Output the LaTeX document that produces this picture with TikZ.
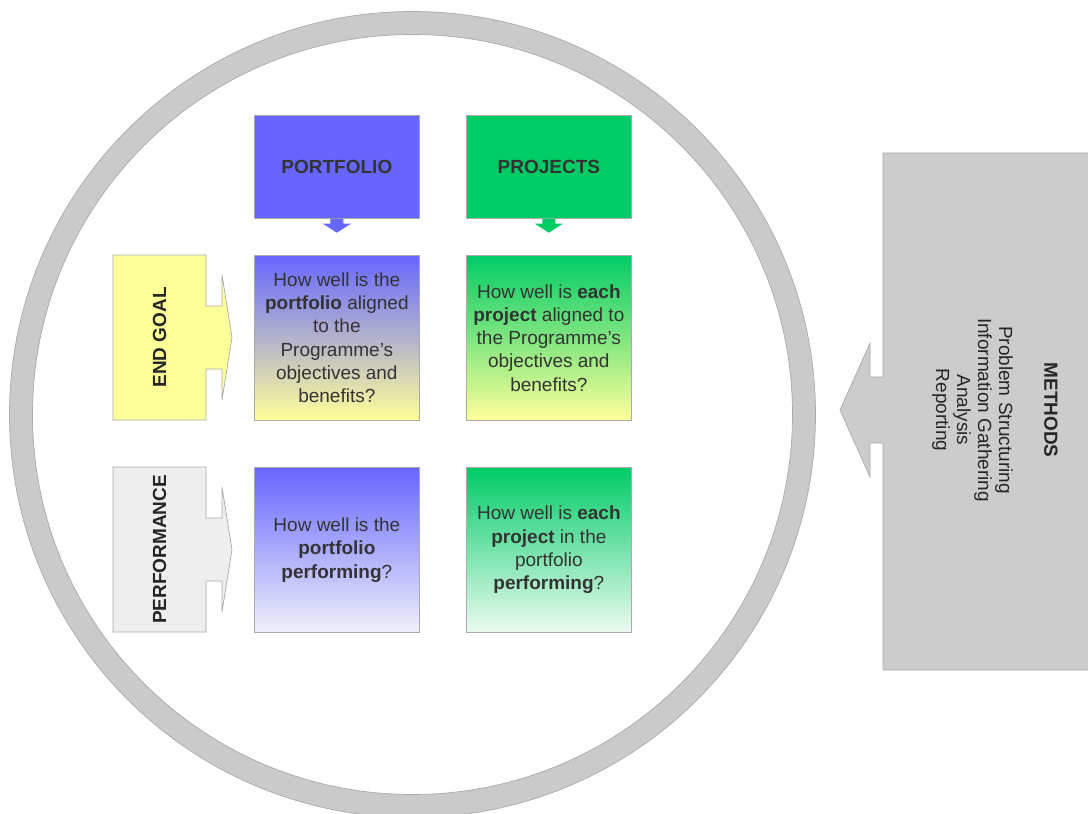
\documentclass[tikz,border=0pt]{standalone}
\usepackage{fontspec}
\setmainfont{Liberation Sans}
\definecolor{pblue}{RGB}{102,102,255}
\definecolor{pgreen}{RGB}{0,204,102}
\definecolor{pyellow}{RGB}{255,255,153}
\definecolor{pgrey}{RGB}{238,238,238}
\definecolor{pwhiteb}{RGB}{240,240,250}
\definecolor{pwhiteg}{RGB}{236,250,240}
\definecolor{ringgrey}{RGB}{202,202,202}
\definecolor{edgegrey}{RGB}{170,170,170}
\definecolor{mgrey}{RGB}{204,204,204}
\definecolor{txt}{RGB}{51,51,51}
\begin{document}
\begin{tikzpicture}[x=1pt,y=-1pt,
  qbox/.style={draw=edgegrey, line width=0.7pt, minimum width=165pt, minimum height=165pt,
    inner sep=0pt, anchor=north west, align=center, text=txt,
    font=\fontsize{19}{23.3}\selectfont},
  hbox/.style={draw=edgegrey, line width=0.7pt, minimum width=165pt, minimum height=103pt,
    inner sep=0pt, anchor=north west, text=txt, font=\fontsize{19}{23}\selectfont\bfseries},
  callout/.style={draw=edgegrey, line width=0.7pt},
  vlabel/.style={rotate=90, text=black!85, font=\fontsize{19}{23}\selectfont\bfseries},
  mlabel/.style={rotate=-90, text=black!85, font=\fontsize{19}{21}\selectfont}
]
\clip (0,0) rectangle (1088,814);
\fill[white] (0,0) rectangle (1088,814);

% outer ring
\coordinate (rc) at (412.5,414.5);
\filldraw[fill=ringgrey, draw=edgegrey, line width=0.7pt, even odd rule]
  (rc) circle[radius=403] (rc) circle[radius=380];

% column headers
\node[hbox, fill=pblue]  (hp) at (254,115) {PORTFOLIO};
\node[hbox, fill=pgreen] (hj) at (466,115) {PROJECTS};

% small down arrows
\fill[pblue]  ([xshift=-6.5pt]hp.south) -- ++(13,0) -- ++(0,5) -- ++(7.5,0) -- ++(-14,9) -- ++(-14,-9) -- ++(7.5,0) -- cycle;
\fill[pgreen] ([xshift=-6.5pt]hj.south) -- ++(13,0) -- ++(0,5) -- ++(7.5,0) -- ++(-14,9) -- ++(-14,-9) -- ++(7.5,0) -- cycle;

% question boxes
\node[qbox, top color=pblue, bottom color=pyellow] (q1) at (254,255)
  {How well is the\\\textbf{portfolio} aligned\\to the\\Programme’s\\objectives and\\benefits?};
\node[qbox, top color=pgreen, bottom color=pyellow] (q2) at (466,255)
  {How well is \textbf{each}\\\textbf{project} aligned to\\the Programme’s\\objectives and\\benefits?};
\node[qbox, top color=pblue, bottom color=pwhiteb] (q3) at (254,467)
  {How well is the\\\textbf{portfolio}\\\textbf{performing}?};
\node[qbox, top color=pgreen, bottom color=pwhiteg] (q4) at (466,467)
  {How well is \textbf{each}\\\textbf{project} in the\\portfolio\\\textbf{performing}?};

% row callouts
\filldraw[callout, fill=pyellow] (113,255) coordinate (egnw) -- ++(93,0) -- ++(0,51) -- ++(16,0) -- ++(0,-31)
  -- ++(10,62.5) -- ++(-10,62.5) -- ++(0,-31) -- ++(-16,0) -- ++(0,51) -- ++(-93,0) -- cycle;
\node[vlabel] (eg) at (159.5,337.5) {END GOAL};

\filldraw[callout, fill=pgrey] (113,467) coordinate (pfnw) -- ++(93,0) -- ++(0,51) -- ++(16,0) -- ++(0,-31)
  -- ++(10,62.5) -- ++(-10,62.5) -- ++(0,-31) -- ++(-16,0) -- ++(0,51) -- ++(-93,0) -- cycle;
\node[vlabel] (pf) at (159.5,549.5) {PERFORMANCE};

% methods callout
\filldraw[callout, fill=mgrey] (1095,153) -- (883,153) -- (883,377) -- (870,377) -- (870,343)
  -- (840,410) -- (870,477) -- (870,443) -- (883,443) -- (883,670) -- (1095,670) -- cycle;
\node[mlabel, font=\fontsize{19}{21}\selectfont\bfseries] (m0) at (1051,410) {METHODS};
\node[mlabel] (m1) at (1004,410) {Problem Structuring};
\node[mlabel] (m2) at (983,410) {Information Gathering};
\node[mlabel] (m3) at (962,410) {Analysis};
\node[mlabel] (m4) at (941,410) {Reporting};
\end{tikzpicture}
\end{document}
